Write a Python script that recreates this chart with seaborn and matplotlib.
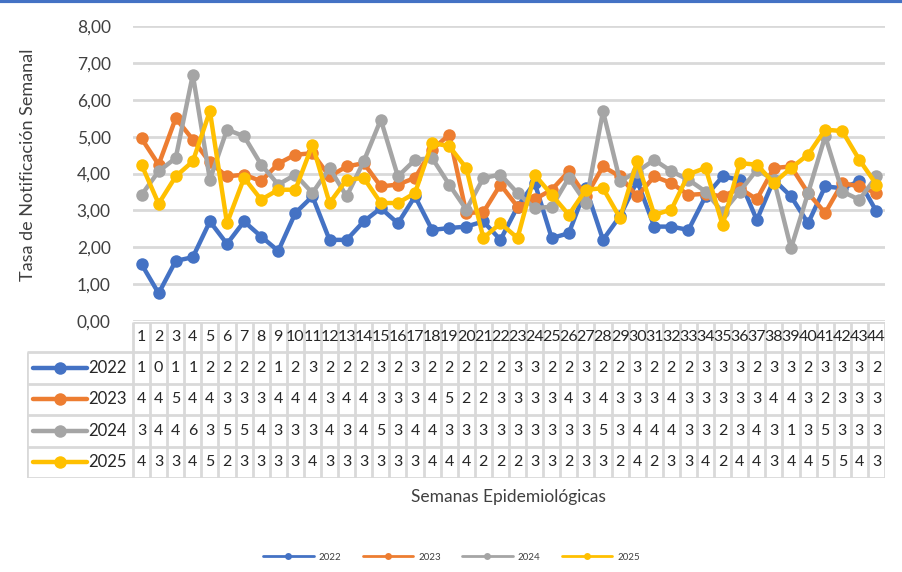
import numpy as np
import pandas as pd
import seaborn as sns
import matplotlib.pyplot as plt
from matplotlib.lines import Line2D
from matplotlib.ticker import FuncFormatter

weeks = list(range(1, 45))
years = ['2022', '2023', '2024', '2025']
colors = ['#4472C4', '#ED7D31', '#A5A5A5', '#FFC000']

# tasas semanales
v2022 = [1.54, 0.75, 1.63, 1.73, 2.70, 2.09, 2.70, 2.29, 1.90, 2.93, 3.38,
         2.20, 2.20, 2.70, 3.06, 2.65, 3.38, 2.47, 2.52, 2.56, 2.70, 2.20,
         3.10, 3.75, 2.25, 2.38, 3.60, 2.20, 2.85, 3.80, 2.56, 2.56, 2.47,
         3.38, 3.92, 3.83, 2.74, 3.83, 3.38, 2.65, 3.65, 3.60, 3.79, 2.97]
v2023 = [4.95, 4.24, 5.50, 4.92, 4.30, 3.92, 3.97, 3.79, 4.27, 4.51, 4.55,
         3.92, 4.19, 4.28, 3.65, 3.70, 3.88, 4.65, 5.05, 2.93, 2.95, 3.70,
         3.10, 3.30, 3.56, 4.06, 3.38, 4.19, 3.92, 3.38, 3.92, 3.74, 3.42,
         3.45, 3.38, 3.60, 3.30, 4.15, 4.19, 3.47, 2.93, 3.74, 3.65, 3.47]
v2024 = [3.42, 4.06, 4.42, 6.68, 3.83, 5.19, 5.01, 4.24, 3.70, 3.97, 3.47,
         4.15, 3.38, 4.33, 5.46, 3.92, 4.37, 4.42, 3.70, 3.02, 3.88, 3.97,
         3.47, 3.06, 3.10, 3.88, 3.20, 5.69, 3.79, 4.05, 4.37, 4.06, 3.83,
         3.51, 2.95, 3.51, 4.10, 3.83, 1.97, 3.47, 5.01, 3.51, 3.29, 3.92]
v2025 = [4.24, 3.18, 3.92, 4.33, 5.69, 2.65, 3.88, 3.29, 3.56, 3.56, 4.78,
         3.20, 3.83, 3.88, 3.20, 3.20, 3.47, 4.83, 4.74, 4.15, 2.25, 2.65,
         2.25, 3.97, 3.42, 2.88, 3.56, 3.60, 2.79, 4.33, 2.88, 3.02, 3.98,
         4.15, 2.60, 4.28, 4.24, 3.74, 4.15, 4.51, 5.19, 5.15, 4.37, 3.70]

# valores mostrados en la tabla de datos
t2022 = [1, 0, 1, 1, 2, 2, 2, 2, 1, 2, 3, 2, 2, 2, 3, 2, 3, 2, 2, 2, 2, 2,
         3, 3, 2, 2, 3, 2, 2, 3, 2, 2, 2, 3, 3, 3, 2, 3, 3, 2, 3, 3, 3, 2]
t2023 = [4, 4, 5, 4, 4, 3, 3, 3, 4, 4, 4, 3, 4, 4, 3, 3, 3, 4, 5, 2, 2, 3,
         3, 3, 3, 4, 3, 4, 3, 3, 3, 4, 3, 3, 3, 3, 3, 4, 4, 3, 2, 3, 3, 3]
t2024 = [3, 4, 4, 6, 3, 5, 5, 4, 3, 3, 3, 4, 3, 4, 5, 3, 4, 4, 3, 3, 3, 3,
         3, 3, 3, 3, 3, 5, 3, 4, 4, 4, 3, 3, 2, 3, 4, 3, 1, 3, 5, 3, 3, 3]
t2025 = [4, 3, 3, 4, 5, 2, 3, 3, 3, 3, 4, 3, 3, 3, 3, 3, 3, 4, 4, 4, 2, 2,
         2, 3, 3, 2, 3, 3, 2, 4, 2, 3, 3, 4, 2, 4, 4, 3, 4, 4, 5, 5, 4, 3]

series = [v2022, v2023, v2024, v2025]
table_rows = [t2022, t2023, t2024, t2025]

df = pd.DataFrame({
    'semana': weeks * 4,
    'tasa': sum(series, []),
    'anio': sum([[y] * len(weeks) for y in years], []),
})

sns.set_style('white')
plt.rcParams['font.family'] = ['Lato', 'DejaVu Sans']
txt_color = '#404040'
grid_color = '#D9D9D9'

W, H = 903, 572
fig = plt.figure(figsize=(W / 100, H / 100), dpi=100)

# eje principal
ax = fig.add_axes([133 / W, 1 - 321 / H, (885 - 133) / W, (321 - 26) / H])
sns.lineplot(data=df, x='semana', y='tasa', hue='anio', palette=colors,
             marker='o', markersize=9, markeredgewidth=0, linewidth=3.2,
             legend=False, ax=ax)
ax.set_xlim(0.5, 44.5)
ax.set_ylim(0, 8)
ax.set_yticks(range(0, 9))
ax.yaxis.set_major_formatter(FuncFormatter(lambda v, p: '{:.2f}'.format(v).replace('.', ',')))
ax.tick_params(axis='y', labelsize=12.5, colors=txt_color, length=0, pad=16)
ax.set_xticks([])
ax.set_xlabel('')
ax.set_ylabel('')
ax.yaxis.grid(True, color=grid_color, linewidth=2)
ax.set_axisbelow(True)
for s in ax.spines.values():
    s.set_visible(False)

fig.text(28 / W, 1 - 165 / H, 'Tasa de Notificación Semanal', rotation=90,
         ha='center', va='center', fontsize=13, color=txt_color)

# tabla de datos
x0 = 0.5 - (133 - 27) / ((885 - 133) / 44)
tab = fig.add_axes([27 / W, 1 - 478 / H, (885 - 27) / W, 156 / H])
tab.set_xlim(x0, 44.5)
tab.set_ylim(156, 0)
tab.axis('off')
bounds = [0, 30, 61.5, 93, 124.5, 156]
lc = dict(color=grid_color, linewidth=2, solid_capstyle='butt')
tab.plot([0.5, 44.5], [0, 0], **lc)
for b in bounds[1:]:
    tab.plot([x0, 44.5], [b, b], **lc)
for k in range(45):
    tab.plot([k + 0.5, k + 0.5], [0, 156], **lc)
tab.plot([x0, x0], [30, 156], **lc)

for i, w in enumerate(weeks):
    tab.text(w, 15, str(w), ha='center', va='center', fontsize=11.5, color='#262626')
for r, (vals, y, c) in enumerate(zip(table_rows, years, colors)):
    yc = (bounds[r + 1] + bounds[r + 2]) / 2
    for w, v in zip(weeks, vals):
        tab.text(w, yc, str(v), ha='center', va='center', fontsize=11.5, color='#262626')
    lx0 = x0 + 6 / 17.09
    lx1 = x0 + 60 / 17.09
    tab.plot([lx0, lx1], [yc, yc], color=c, linewidth=3.2, solid_capstyle='round')
    tab.plot([(lx0 + lx1) / 2], [yc], marker='o', color=c, markersize=9, markeredgewidth=0)
    tab.text(x0 + 61 / 17.09, yc, y, ha='left', va='center', fontsize=12, color='#262626')

fig.text(508 / W, 1 - 497 / H, 'Semanas Epidemiológicas', ha='center', va='center',
         fontsize=12.5, color=txt_color)

handles = [Line2D([0], [0], color=c, marker='o', markersize=5, linewidth=2, markeredgewidth=0)
           for c in colors]
fig.legend(handles, years, loc='center', bbox_to_anchor=(0.5, 1 - 557 / H), ncol=4,
           frameon=False, fontsize=7, handlelength=5.2, columnspacing=2.2,
           handletextpad=0.5, labelcolor=txt_color)

# borde superior
fig.add_artist(Line2D([0, 1], [1 - 1 / H, 1 - 1 / H], color='#4472C4', linewidth=3,
                      transform=fig.transFigure))

fig.savefig('out.png', dpi=100)
